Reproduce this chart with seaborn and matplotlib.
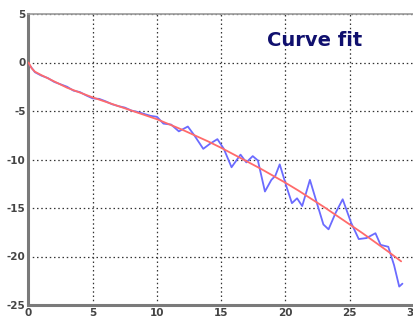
import matplotlib
matplotlib.use("Agg")
import matplotlib.pyplot as plt
import seaborn as sns
import pandas as pd

# Noisy measured curve
x_data = [0.1, 0.5, 1.0, 1.5, 2.0, 2.5, 3.0, 3.5, 4.0, 4.5, 5.0, 5.5, 6.0, 6.5, 7.0,
          7.5, 8.0, 8.5, 9.0, 9.5, 10.0, 10.5, 11.1, 11.7, 12.4, 12.9, 13.6, 14.1,
          14.7, 15.2, 15.8, 16.5, 16.95, 17.45, 17.85, 18.4, 18.9, 19.2, 19.55,
          20.1, 20.5, 20.9, 21.3, 21.9, 22.4, 22.95, 23.35, 23.9, 24.45, 25.1,
          25.7, 26.3, 27.0, 27.4, 28.0, 28.45, 28.85, 29.1]
y_data = [-0.3, -1.0, -1.35, -1.6, -2.0, -2.25, -2.5, -2.9, -3.05, -3.4, -3.7, -3.75,
          -4.0, -4.3, -4.5, -4.65, -4.95, -5.1, -5.3, -5.5, -5.6, -6.3, -6.4, -7.1,
          -6.6, -7.5, -8.9, -8.4, -7.9, -8.9, -10.8, -9.5, -10.3, -9.65, -10.1,
          -13.3, -12.1, -11.7, -10.5, -12.9, -14.5, -14.0, -14.8, -12.1, -14.3,
          -16.7, -17.2, -15.5, -14.1, -16.5, -18.2, -18.1, -17.6, -18.8, -19.0,
          -20.9, -23.1, -22.8]

# Fitted curve
x_fit = [0, 0.25, 0.5, 1, 2, 3, 4, 5, 6, 7, 8, 9, 10, 11, 12, 13, 14, 15, 16, 17,
         18, 19, 20, 21, 22, 23, 24, 25, 26, 27, 28, 29]
y_fit = [0.0, -0.6, -0.95, -1.3, -1.95, -2.6, -3.1, -3.6, -4.05, -4.5, -4.95, -5.4,
         -5.85, -6.4, -6.95, -7.55, -8.15, -8.8, -9.5, -10.2, -10.9, -11.65, -12.4,
         -13.2, -14.05, -14.9, -15.8, -16.7, -17.6, -18.55, -19.5, -20.5]

title_text = "Curve fit"
ticks = [0, 5, 10, 15, 20, 25, 30]
yticks = [-25, -20, -15, -10, -5, 0, 5]

df_data = pd.DataFrame({"x": x_data, "y": y_data})
df_fit = pd.DataFrame({"x": x_fit, "y": y_fit})

sns.set_style("white")
plt.rcParams["font.family"] = ["DejaVu Sans"]

fig = plt.figure(figsize=(4.14, 3.2), dpi=100)
ax = fig.add_axes([28.5 / 414, 15 / 320, (414 - 28.5) / 414, (305 - 14) / 320])

sns.lineplot(data=df_data, x="x", y="y", ax=ax, color="#6b6bff", lw=1.3,
             estimator=None, sort=False, zorder=3)
sns.lineplot(data=df_fit, x="x", y="y", ax=ax, color="#ff6b6b", lw=1.3,
             estimator=None, sort=False, zorder=4)

ax.set_xlim(0, 30)
ax.set_ylim(-25, 5)
ax.set_xticks(ticks)
ax.set_yticks(yticks)
ax.set_xticklabels([str(t) for t in ticks])
ax.set_yticklabels([str(t) for t in yticks])
ax.set_xlabel("")
ax.set_ylabel("")

ax.grid(True, color="#333333", linestyle=(0, (1.2, 2.2)), linewidth=0.9)
ax.set_axisbelow(True)

for side in ["left", "bottom"]:
    ax.spines[side].set_color("#7a7a7a")
    ax.spines[side].set_linewidth(2.2)
ax.spines["top"].set_color("#9a9a9a")
ax.spines["top"].set_linewidth(1.2)
ax.spines["right"].set_visible(False)

ax.tick_params(axis="both", direction="in", length=3, width=0.8, color="#555555",
               labelsize=7.5, labelcolor="#444444", pad=2)
for lab in ax.get_xticklabels() + ax.get_yticklabels():
    lab.set_fontweight("bold")

ax.text(22.3, 2.3, title_text, color="#10106e", fontsize=14, fontweight="bold",
        ha="center", va="center")

fig.savefig("out.png", dpi=100)
